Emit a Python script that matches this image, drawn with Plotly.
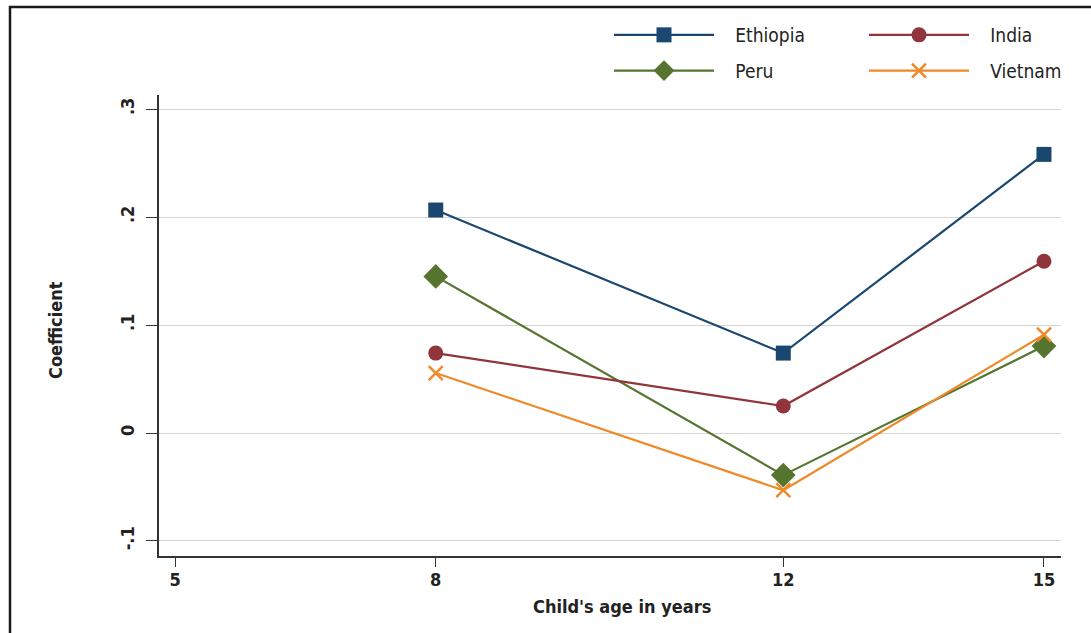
import plotly.graph_objects as go

ages = [8, 12, 15]
ethiopia = [0.2065, 0.074, 0.258]
india = [0.074, 0.025, 0.159]
peru = [0.145, -0.039, 0.0805]
vietnam = [0.0555, -0.053, 0.091]

x_ticks = [5, 8, 12, 15]
y_ticks = [-0.1, 0, 0.1, 0.2, 0.3]
y_tick_labels = ["-.1", "0", ".1", ".2", ".3"]

FONT = "Liberation Sans Narrow, Arial Narrow, DejaVu Sans Condensed, sans-serif"

W, H = 1091, 633
L, R, T, B = 159, 30, 95, 77
pw, ph = W - L - R, H - T - B

def px_x(p):
    return (p - L) / pw

def px_y(p):
    return (H - B - p) / ph

PAD = "\u00a0\u00a0\u00a0"

series = [
    ("Ethiopia", ethiopia, "#1a476f", "square", 15, "legend"),
    ("Peru", peru, "#55752f", "diamond", 19, "legend"),
    ("India", india, "#90353b", "circle", 15, "legend2"),
    ("Vietnam", vietnam, "#ee8a2a", "x-thin", 14, "legend2"),
]

fig = go.Figure()
for name, vals, col, sym, size, lg in series:
    fig.add_trace(go.Scatter(
        x=ages, y=vals, name=PAD + name, mode="lines+markers",
        line=dict(color=col, width=2.2),
        marker=dict(symbol=sym, size=size, color=col,
                    line=dict(color=col, width=2.5 if sym == "x-thin" else 0)),
        legend=lg, legendgroup=name,
    ))

legend_common = dict(
    orientation="v", traceorder="grouped", tracegroupgap=8,
    font=dict(family=FONT, size=19, color="#222"),
    itemwidth=100, bgcolor="rgba(0,0,0,0)", xanchor="left", yanchor="top",
)

fig.update_layout(
    width=W, height=H,
    margin=dict(l=L, r=R, t=T, b=B),
    paper_bgcolor="white", plot_bgcolor="white",
    showlegend=True,
    legend=dict(x=px_x(609), y=px_y(16), **legend_common),
    legend2=dict(x=px_x(864), y=px_y(16), **legend_common),
    xaxis=dict(
        range=[4.815, 15.196], tickvals=x_ticks, ticktext=[str(v) for v in x_ticks],
        showgrid=False, zeroline=False, showline=True, linecolor="#333", linewidth=1.5,
        ticks="outside", ticklen=9, tickwidth=1.3, tickcolor="#333",
        ticklabelstandoff=-2,
        tickfont=dict(family=FONT, size=18, color="#222", weight="bold"),
    ),
    yaxis=dict(
        range=[-0.1139, 0.313], tickvals=y_ticks, ticktext=y_tick_labels,
        tickangle=-90,
        showgrid=True, gridcolor="#d4d4d4", gridwidth=1.2, zeroline=False,
        showline=True, linecolor="#333", linewidth=1.5,
        ticks="outside", ticklen=11, tickwidth=1.3, tickcolor="#333",
        ticklabelstandoff=5,
        tickfont=dict(family=FONT, size=18, color="#222", weight="bold"),
    ),
    annotations=[
        dict(text="<b>Coefficient</b>", textangle=-90, x=px_x(55), y=px_y(330),
             xref="paper", yref="paper", xanchor="center", yanchor="middle",
             showarrow=False, font=dict(family=FONT, size=18, color="#222")),
        dict(text="<b>Child's age in years</b>", x=px_x(622), y=px_y(606),
             xref="paper", yref="paper", xanchor="center", yanchor="middle",
             showarrow=False, font=dict(family=FONT, size=18, color="#222")),
    ],
    shapes=[
        dict(type="rect", xref="paper", yref="paper",
             x0=px_x(10), x1=px_x(1200), y0=px_y(700), y1=px_y(7),
             line=dict(color="#1a1a1a", width=2.5), fillcolor="rgba(0,0,0,0)"),
    ],
)

fig.write_html("out.html", config={"displayModeBar": False},
               post_script="document.body.style.margin='0px';")
